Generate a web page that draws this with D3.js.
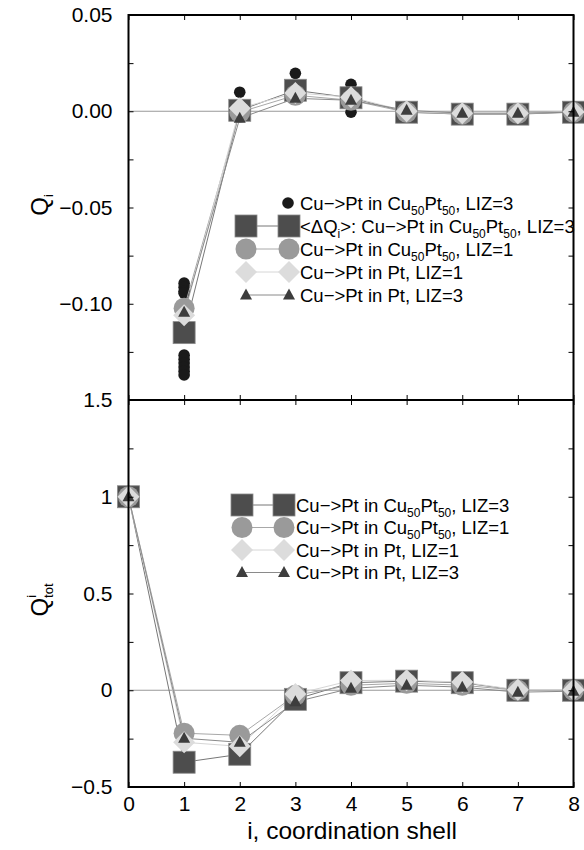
<!DOCTYPE html>
<html><head><meta charset="utf-8">
<script src="https://cdn.jsdelivr.net/npm/d3@7"></script>
<style>
body{margin:0;background:#fff;}
svg text{font-family:"Liberation Sans",Arial,Helvetica,sans-serif;fill:#000;}
</style></head>
<body><svg id="c" width="584" height="850"></svg>
<script>
// ---------- data ----------
const shells = [0,1,2,3,4,5,6,7,8];
const xTickLabels = ["0","1","2","3","4","5","6","7","8"];

// top panel: Q_i
const topTicks = [0.05,0.025,0,-0.025,-0.05,-0.075,-0.10,-0.125,-0.15];
const topTickLabels = ["0.05","","0.00","","\u22120.05","","\u22120.10","",""];
const dotsX = [1,1,1,1,1,1,1,1,1,1,2,3,4,4];
const dotsQ = [-0.0893,-0.0914,-0.0935,-0.0945,-0.1267,-0.1288,-0.1308,-0.1329,-0.135,-0.137,0.0099,0.0197,0.014,-0.0005];
const topShells = [1,2,3,4,5,6,7,8];
const qAvgCuPt3 = [-0.115,0.0005,0.0109,0.007,-0.0005,-0.0015,-0.0015,-0.0005];
const qCuPt1    = [-0.1023,-0.0005,0.0083,0.0057,-0.0005,-0.0015,-0.0012,-0.0005];
const qPt1      = [-0.106,0.0016,0.0095,0.0073,0.0000,-0.0010,-0.0010,-0.0003];
const qPt3      = [-0.1044,-0.0036,0.0067,0.0057,0.0005,-0.0010,-0.0010,-0.0005];

// bottom panel: Q^i_tot
const botTicks = [1.5,1.25,1,0.75,0.5,0.25,0,-0.25,-0.5];
const botTickLabels = ["1.5","","1","","0.5","","0","","\u22120.5"];
const totCuPt3 = [1,-0.372,-0.331,-0.047,0.039,0.047,0.039,0.000,0.000];
const totCuPt1 = [1,-0.222,-0.233,-0.026,0.026,0.036,0.026,0.000,0.000];
const totPt1   = [1,-0.269,-0.290,-0.020,0.050,0.052,0.042,0.002,0.002];
const totPt3   = [1,-0.248,-0.269,-0.060,0.010,0.026,0.016,-0.010,-0.005];

const topLegend = [
  {sym:"dot", parts:[["Cu\u2212>Pt in Cu"],["50","sub"],["Pt"],["50","sub"],[", LIZ=3"]]},
  {sym:"square", parts:[["<\u0394Q"],["i","sub"],[">: Cu\u2212>Pt in Cu"],["50","sub"],["Pt"],["50","sub"],[", LIZ=3"]]},
  {sym:"circle", parts:[["Cu\u2212>Pt in Cu"],["50","sub"],["Pt"],["50","sub"],[", LIZ=1"]]},
  {sym:"diamond", parts:[["Cu\u2212>Pt in Pt, LIZ=1"]]},
  {sym:"triangle", parts:[["Cu\u2212>Pt in Pt, LIZ=3"]]}
];
const botLegend = [
  {sym:"square", parts:[["Cu\u2212>Pt in Cu"],["50","sub"],["Pt"],["50","sub"],[", LIZ=3"]]},
  {sym:"circle", parts:[["Cu\u2212>Pt in Cu"],["50","sub"],["Pt"],["50","sub"],[", LIZ=1"]]},
  {sym:"diamond", parts:[["Cu\u2212>Pt in Pt, LIZ=1"]]},
  {sym:"triangle", parts:[["Cu\u2212>Pt in Pt, LIZ=3"]]}
];

// ---------- styles ----------
const S = {
  dot:     {fill:"#1a1a1a", line:null},
  square:  {fill:"#4d4d4d", line:"#777", stroke:"#8a8a8a"},
  circle:  {fill:"#9a9a9a", line:"#a8a8a8"},
  diamond: {fill:"#dcdcdc", line:"#d6d6d6"},
  triangle:{fill:"#3d3d3d", line:"#8a8a8a"}
};
const L = 128.5, R = 573.5, T = 15, M = 400, B = 787;
const svg = d3.select("#c");
const x = d3.scaleLinear().domain([0,8]).range([L,R]);
const yTop = d3.scaleLinear().domain([-0.15,0.05]).range([M,T]);
const yBot = d3.scaleLinear().domain([-0.5,1.5]).range([B,M]);
const FS = 21;

function marker(g, sym, cx, cy){
  const st = S[sym];
  if(sym==="dot") g.append("circle").attr("cx",cx).attr("cy",cy).attr("r",5.8).attr("fill",st.fill);
  else if(sym==="square") g.append("rect").attr("x",cx-11).attr("y",cy-11).attr("width",22).attr("height",22).attr("fill",st.fill).attr("stroke",st.stroke).attr("stroke-width",0.8);
  else if(sym==="circle") g.append("circle").attr("cx",cx).attr("cy",cy).attr("r",10.5).attr("fill",st.fill);
  else if(sym==="diamond") g.append("path").attr("d",`M${cx},${cy-11}L${cx+11},${cy}L${cx},${cy+11}L${cx-11},${cy}Z`).attr("fill",st.fill);
  else if(sym==="triangle") g.append("path").attr("d",`M${cx},${cy-6.5}L${cx+6},${cy+4.5}L${cx-6},${cy+4.5}Z`).attr("fill",st.fill);
}

// zero lines
svg.append("line").attr("x1",L).attr("x2",R).attr("y1",yTop(0)).attr("y2",yTop(0)).attr("stroke","#999").attr("stroke-width",1.2);
svg.append("line").attr("x1",L).attr("x2",R).attr("y1",yBot(0)).attr("y2",yBot(0)).attr("stroke","#999").attr("stroke-width",1.2);

// series
function series(g, xs, ys, y, sym){
  const st = S[sym];
  if(st.line){
    g.append("path").datum(xs.map((d,i)=>[d,ys[i]]))
      .attr("d", d3.line().x(d=>x(d[0])).y(d=>y(d[1])))
      .attr("fill","none").attr("stroke",st.line).attr("stroke-width",1);
  }
}
function marks(g, xs, ys, y, sym){ xs.forEach((d,i)=>marker(g,sym,x(d),y(ys[i]))); }

const gTop = svg.append("g");
dotsX.forEach((d,i)=>marker(gTop,"dot",x(d),yTop(dotsQ[i])));
series(gTop, topShells, qAvgCuPt3, yTop, "square");
series(gTop, topShells, qCuPt1, yTop, "circle");
series(gTop, topShells, qPt1, yTop, "diamond");
series(gTop, topShells, qPt3, yTop, "triangle");
marks(gTop, topShells, qAvgCuPt3, yTop, "square");
marks(gTop, topShells, qCuPt1, yTop, "circle");
marks(gTop, topShells, qPt1, yTop, "diamond");
marks(gTop, topShells, qPt3, yTop, "triangle");

const gBot = svg.append("g");
series(gBot, shells, totCuPt3, yBot, "square");
series(gBot, shells, totCuPt1, yBot, "circle");
series(gBot, shells, totPt1, yBot, "diamond");
series(gBot, shells, totPt3, yBot, "triangle");
marks(gBot, shells, totCuPt3, yBot, "square");
marks(gBot, shells, totCuPt1, yBot, "circle");
marks(gBot, shells, totPt1, yBot, "diamond");
marks(gBot, shells, totPt3, yBot, "triangle");

// axes
function styleAxis(g){
  g.select(".domain").remove();
  g.selectAll(".tick line").attr("stroke","#000").attr("stroke-width",1);
  g.selectAll(".tick text").attr("font-size",FS).attr("font-family","Liberation Sans, Arial, sans-serif");
}
svg.append("g").attr("transform",`translate(${L},0)`)
  .call(d3.axisLeft(yTop).tickValues(topTicks).tickSize(-5).tickPadding(16).tickFormat((d,i)=>topTickLabels[i])).call(styleAxis);
svg.append("g").attr("transform",`translate(${R},0)`)
  .call(d3.axisRight(yTop).tickValues(topTicks).tickSize(-5).tickFormat("")).call(styleAxis);
svg.append("g").attr("transform",`translate(${L},0)`)
  .call(d3.axisLeft(yBot).tickValues(botTicks).tickSize(-5).tickPadding(16).tickFormat((d,i)=>botTickLabels[i])).call(styleAxis);
svg.append("g").attr("transform",`translate(${R},0)`)
  .call(d3.axisRight(yBot).tickValues(botTicks).tickSize(-5).tickFormat("")).call(styleAxis);
[T,M].forEach(yy=>svg.append("g").attr("transform",`translate(0,${yy})`)
  .call(d3.axisTop(x).tickValues(shells).tickSize(-5).tickFormat("")).call(styleAxis));
svg.append("g").attr("transform",`translate(0,${M})`)
  .call(d3.axisBottom(x).tickValues(shells).tickSize(-5).tickFormat("")).call(styleAxis);
svg.append("g").attr("transform",`translate(0,${B})`)
  .call(d3.axisBottom(x).tickValues(shells).tickSize(-5).tickPadding(9).tickFormat((d,i)=>xTickLabels[i])).call(styleAxis);

// frame
svg.append("rect").attr("x",L).attr("y",T).attr("width",R-L).attr("height",B-T).attr("fill","none").attr("stroke","#000").attr("stroke-width",2);
svg.append("line").attr("x1",L).attr("x2",R).attr("y1",M).attr("y2",M).attr("stroke","#000").attr("stroke-width",2);

// titles
svg.append("text").attr("x",(L+R)/2+1).attr("y",839).attr("text-anchor","middle").attr("font-size",24.5).text("i, coordination shell");
const t1 = svg.append("text").attr("transform","translate(48,205) rotate(-90)").attr("text-anchor","middle").attr("font-size",24);
t1.append("tspan").text("Q");
t1.append("tspan").attr("font-size",13).attr("dy",5).text("i");
const t2 = svg.append("text").attr("transform","translate(48,600) rotate(-90)").attr("text-anchor","middle").attr("font-size",24);
t2.append("tspan").text("Q");
t2.append("tspan").attr("font-size",13).attr("dy",-12).text("i");
t2.append("tspan").attr("font-size",13).attr("dx",-3).attr("dy",17).text("tot");

// legends
function legend(items, y0, dy, xl, xr, xt){
  items.forEach((it,i)=>{
    const cy = y0 + i*dy;
    const g = svg.append("g");
    if(it.sym==="dot"){ marker(g,"dot",xr-1,cy); }
    else {
      g.append("line").attr("x1",xl).attr("x2",xr).attr("y1",cy).attr("y2",cy).attr("stroke",S[it.sym].line).attr("stroke-width",1);
      marker(g,it.sym,xl,cy); marker(g,it.sym,xr,cy);
    }
    const t = g.append("text").attr("x",xt).attr("y",cy+6.5).attr("font-size",18.5);
    let sub=false;
    it.parts.forEach(p=>{
      const ts = t.append("tspan").text(p[0]);
      if(p[1]==="sub"){ ts.attr("font-size",12).attr("dy",sub?0:5); sub=true; }
      else if(sub){ ts.attr("dy",-5); sub=false; }
    });
  });
}
legend(topLegend, 203, 23, 246, 289, 300);
legend(botLegend, 505, 22.5, 242, 284, 296);
</script></body></html>
